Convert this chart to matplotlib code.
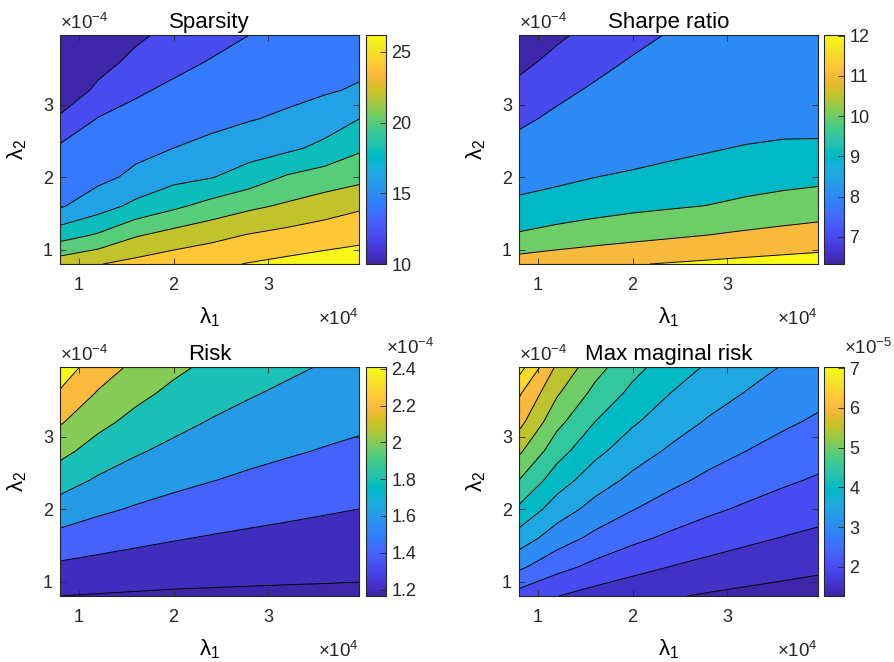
import numpy as np
import matplotlib
matplotlib.use('Agg')
import matplotlib.pyplot as plt
from matplotlib.colors import LinearSegmentedColormap, Normalize
from matplotlib.cm import ScalarMappable
from matplotlib.ticker import FuncFormatter

## grid: lambda_1 (x 1e4) and lambda_2 (x 1e-4)
lam1 = np.array([0.8, 1.2, 1.6, 2.0, 2.4, 2.8, 3.2, 3.6, 3.96]) * 1e4
lam2 = np.array([0.8, 1.2, 1.6, 2.0, 2.4, 2.8, 3.2, 3.6, 3.96]) * 1e-4

## values (rows = lambda_2, cols = lambda_1)
sparsity = np.array([
    [23.1, 23.9, 24.6, 25.2, 25.6, 26.1, 26.5, 26.8, 27.1],
    [19.1, 20.2, 21.8, 22.7, 23.4, 24.1, 24.6, 25.1, 25.4],
    [15.8, 17.1, 18.5, 19.6, 20.7, 21.6, 22.3, 23.0, 23.7],
    [15.0, 15.5, 16.4, 17.4, 17.9, 18.9, 20.2, 20.9, 21.4],
    [14.3, 14.9, 15.5, 16.0, 16.5, 17.1, 17.6, 18.5, 19.7],
    [12.3, 14.1, 14.7, 15.1, 15.5, 15.9, 16.3, 17.0, 18.0],
    [10.5, 12.4, 13.7, 14.4, 14.8, 15.2, 15.5, 15.8, 16.2],
    [9.3, 11.2, 12.5, 13.4, 14.1, 14.5, 14.9, 15.2, 15.5],
    [8.6, 10.3, 11.6, 12.6, 13.3, 14.0, 14.4, 14.7, 15.0],
])
sharpe = np.array([
    [11.47, 11.66, 11.82, 11.95, 12.06, 12.16, 12.25, 12.33, 12.39],
    [10.09, 10.31, 10.51, 10.69, 10.85, 11.00, 11.16, 11.30, 11.41],
    [9.28, 9.47, 9.63, 9.78, 9.90, 10.02, 10.20, 10.36, 10.50],
    [8.53, 8.77, 8.99, 9.15, 9.31, 9.46, 9.58, 9.69, 9.76],
    [8.27, 8.49, 8.65, 8.55, 8.75, 8.91, 9.07, 9.16, 9.19],
    [7.84, 8.17, 8.37, 8.45, 8.55, 8.60, 8.51, 8.64, 8.61],
    [7.26, 7.79, 8.11, 8.28, 8.42, 8.50, 8.52, 8.55, 8.57],
    [6.73, 7.26, 7.74, 8.07, 8.22, 8.35, 8.45, 8.52, 8.57],
    [6.30, 6.83, 7.31, 7.75, 8.06, 8.19, 8.30, 8.38, 8.44],
])
risk = np.array([
    [1.200, 1.188, 1.179, 1.171, 1.168, 1.166, 1.164, 1.163, 1.161],
    [1.364, 1.335, 1.312, 1.293, 1.279, 1.267, 1.257, 1.249, 1.242],
    [1.540, 1.487, 1.446, 1.413, 1.387, 1.366, 1.349, 1.334, 1.322],
    [1.716, 1.638, 1.581, 1.536, 1.499, 1.467, 1.441, 1.418, 1.400],
    [1.887, 1.777, 1.706, 1.650, 1.606, 1.567, 1.534, 1.505, 1.482],
    [2.056, 1.919, 1.821, 1.753, 1.701, 1.657, 1.621, 1.588, 1.562],
    [2.219, 2.055, 1.940, 1.855, 1.787, 1.739, 1.697, 1.662, 1.634],
    [2.382, 2.185, 2.054, 1.955, 1.880, 1.816, 1.768, 1.729, 1.698],
    [2.500, 2.307, 2.154, 2.043, 1.958, 1.892, 1.834, 1.786, 1.753],
]) * 1e-4
max_mrisk = np.array([
    [2.30, 2.01, 1.81, 1.66, 1.54, 1.45, 1.38, 1.32, 1.27],
    [3.09, 2.66, 2.37, 2.16, 1.99, 1.86, 1.75, 1.66, 1.59],
    [3.78, 3.24, 2.88, 2.61, 2.41, 2.24, 2.10, 1.98, 1.89],
    [4.41, 3.76, 3.33, 3.02, 2.78, 2.59, 2.43, 2.29, 2.18],
    [5.00, 4.24, 3.74, 3.39, 3.12, 2.90, 2.73, 2.57, 2.45],
    [5.59, 4.70, 4.13, 3.73, 3.43, 3.19, 3.00, 2.83, 2.70],
    [6.16, 5.14, 4.50, 4.06, 3.73, 3.45, 3.25, 3.07, 2.93],
    [6.57, 5.56, 4.87, 4.38, 4.00, 3.72, 3.48, 3.29, 3.14],
    [7.21, 5.92, 5.19, 4.65, 4.26, 3.94, 3.69, 3.47, 3.32],
]) * 1e-5

## contour levels
sp_levels = [12, 14, 16, 18, 20, 22, 24, 26]
sh_levels = [7, 8, 9, 10, 11, 12]
rk_levels = [1.2e-4, 1.4e-4, 1.6e-4, 1.8e-4, 2.0e-4, 2.2e-4, 2.4e-4]
mm_levels = [1.5e-5, 2e-5, 2.5e-5, 3e-5, 3.5e-5, 4e-5, 4.5e-5, 5e-5, 5.5e-5, 6e-5, 6.5e-5, 7e-5]

## colorbar ranges and ticks
sp_clim = (10, 26.2)
sh_clim = (6.32, 12.02)
rk_clim = (1.165e-4, 2.41e-4)
mm_clim = (1.27e-5, 7.03e-5)
sp_cticks = [10, 15, 20, 25]
sh_cticks = [7, 8, 9, 10, 11, 12]
rk_cticks = [1.2e-4, 1.4e-4, 1.6e-4, 1.8e-4, 2.0e-4, 2.2e-4, 2.4e-4]
mm_cticks = [2e-5, 3e-5, 4e-5, 5e-5, 6e-5, 7e-5]

## matlab parula
parula_rgb = [
    (0.2422, 0.1504, 0.6603), (0.2504, 0.1650, 0.7076), (0.2578, 0.1818, 0.7511), (0.2647, 0.1978, 0.7952),
    (0.2706, 0.2147, 0.8364), (0.2751, 0.2342, 0.8710), (0.2783, 0.2559, 0.8991), (0.2803, 0.2782, 0.9221),
    (0.2813, 0.3006, 0.9414), (0.2810, 0.3228, 0.9579), (0.2795, 0.3447, 0.9717), (0.2760, 0.3667, 0.9829),
    (0.2699, 0.3892, 0.9906), (0.2602, 0.4123, 0.9952), (0.2440, 0.4358, 0.9988), (0.2206, 0.4603, 0.9973),
    (0.1963, 0.4847, 0.9892), (0.1834, 0.5074, 0.9798), (0.1786, 0.5289, 0.9682), (0.1764, 0.5499, 0.9520),
    (0.1687, 0.5703, 0.9359), (0.1540, 0.5902, 0.9218), (0.1460, 0.6091, 0.9079), (0.1380, 0.6276, 0.8973),
    (0.1248, 0.6459, 0.8883), (0.1113, 0.6635, 0.8763), (0.0952, 0.6798, 0.8598), (0.0689, 0.6948, 0.8394),
    (0.0297, 0.7082, 0.8163), (0.0036, 0.7203, 0.7917), (0.0067, 0.7312, 0.7660), (0.0433, 0.7411, 0.7394),
    (0.0964, 0.7500, 0.7120), (0.1408, 0.7584, 0.6842), (0.1717, 0.7670, 0.6554), (0.1938, 0.7758, 0.6251),
    (0.2161, 0.7843, 0.5923), (0.2470, 0.7918, 0.5567), (0.2906, 0.7973, 0.5188), (0.3406, 0.8008, 0.4789),
    (0.3909, 0.8029, 0.4354), (0.4456, 0.8024, 0.3909), (0.5044, 0.7993, 0.3480), (0.5616, 0.7942, 0.3045),
    (0.6174, 0.7876, 0.2612), (0.6720, 0.7793, 0.2227), (0.7242, 0.7698, 0.1910), (0.7738, 0.7598, 0.1646),
    (0.8203, 0.7498, 0.1535), (0.8634, 0.7406, 0.1596), (0.9035, 0.7330, 0.1774), (0.9393, 0.7288, 0.2100),
    (0.9728, 0.7298, 0.2394), (0.9956, 0.7434, 0.2371), (0.9970, 0.7659, 0.2199), (0.9952, 0.7893, 0.2028),
    (0.9892, 0.8136, 0.1885), (0.9786, 0.8386, 0.1766), (0.9676, 0.8639, 0.1643), (0.9610, 0.8890, 0.1537),
    (0.9597, 0.9135, 0.1423), (0.9628, 0.9373, 0.1265), (0.9691, 0.9606, 0.1064), (0.9769, 0.9839, 0.0805),
]
parula = LinearSegmentedColormap.from_list('parula', parula_rgb, N=256)

plt.rcParams['font.family'] = ['Liberation Sans', 'DejaVu Sans']
plt.rcParams['mathtext.fontset'] = 'custom'
plt.rcParams['mathtext.rm'] = 'Liberation Sans'
plt.rcParams['mathtext.it'] = 'Liberation Sans:italic'
plt.rcParams['mathtext.bf'] = 'Liberation Sans:bold'

INK = '#262626'


def panel(ax, cax, Z, levels, clim, cticks, title, cexp):
    norm = Normalize(*clim)
    bounds = [Z.min() - 1] + list(levels) + [Z.max() + 1]
    ## matlab fills each band with the colour of its lower level
    fills = [parula(0.0)] + [parula(norm(v)) for v in levels]
    ax.contourf(lam1, lam2, Z, levels=bounds, colors=fills)
    ax.contour(lam1, lam2, Z, levels=levels, colors='k', linewidths=0.7)

    ax.set_xlim(0.8e4, 3.96e4)
    ax.set_ylim(0.8e-4, 3.96e-4)
    ax.set_xticks([1e4, 2e4, 3e4])
    ax.set_yticks([1e-4, 2e-4, 3e-4])
    ax.xaxis.set_major_formatter(FuncFormatter(lambda v, p: f'{v / 1e4:g}'))
    ax.yaxis.set_major_formatter(FuncFormatter(lambda v, p: f'{v / 1e-4:g}'))
    ax.tick_params(direction='in', top=True, right=True, length=4, width=0.6,
                   labelsize=13, colors=INK)
    ax.tick_params(axis='x', pad=9)
    ax.tick_params(axis='y', pad=5)
    for s in ax.spines.values():
        s.set_linewidth(0.8)
        s.set_edgecolor(INK)

    ax.set_title(title, fontsize=16, pad=5)
    ax.set_xlabel('λ$_1$', fontsize=16, va='baseline')
    ax.xaxis.set_label_coords(0.5, -0.26)
    ax.set_ylabel('λ$_2$', fontsize=16)
    ax.yaxis.set_label_coords(-0.105, 0.5)
    ax.text(1.0, -0.265, '×10$^{4}$', transform=ax.transAxes, ha='right', va='baseline',
            fontsize=13.5, color=INK)
    ax.text(0.0, 1.025, '×10$^{-4}$', transform=ax.transAxes, ha='left', va='baseline',
            fontsize=13.5, color=INK)

    cb = plt.colorbar(ScalarMappable(norm=norm, cmap=parula), cax=cax)
    cb.set_ticks(cticks)
    sc = 10.0 ** cexp
    cb.ax.yaxis.set_major_formatter(FuncFormatter(lambda v, p: f'{v / sc:g}'))
    cax.tick_params(direction='in', length=4, width=0.6, labelsize=13, colors=INK, pad=4)
    cb.outline.set_linewidth(0.8)
    cb.outline.set_edgecolor(INK)
    if cexp != 0:
        cax.text(1.0, 1.055, '×10$^{%d}$' % cexp, transform=cax.transAxes, ha='left',
                 va='baseline', fontsize=13.5, color=INK)


fig = plt.figure(figsize=(8.95, 6.62), dpi=100)

W, H = 299 / 895, 229 / 662
CW = 20 / 895
lefts = [60 / 895, 519 / 895]
clefts = [366 / 895, 824 / 895]
bottoms = [(662 - 264) / 662, (662 - 596) / 662]

data = [
    (sparsity, sp_levels, sp_clim, sp_cticks, 'Sparsity', 0),
    (sharpe, sh_levels, sh_clim, sh_cticks, 'Sharpe ratio', 0),
    (risk, rk_levels, rk_clim, rk_cticks, 'Risk', -4),
    (max_mrisk, mm_levels, mm_clim, mm_cticks, 'Max maginal risk', -5),
]
for k, (Z, lev, clim, cticks, title, cexp) in enumerate(data):
    c, r = k % 2, k // 2
    ax = fig.add_axes([lefts[c], bottoms[r], W, H])
    cax = fig.add_axes([clefts[c], bottoms[r], CW, H])
    panel(ax, cax, Z, lev, clim, cticks, title, cexp)

fig.savefig('out.png', dpi=100)
